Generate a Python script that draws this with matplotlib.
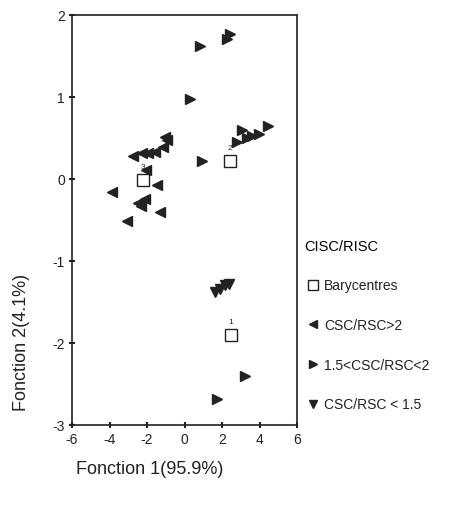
import numpy as np
import matplotlib
matplotlib.use('Agg')
import matplotlib.pyplot as plt

plt.rcParams['font.family'] = ['Liberation Sans', 'DejaVu Sans']
plt.rcParams['axes.unicode_minus'] = False

# group 3 : CSC/RSC>2 (left-pointing)
g3_x = [-0.95, -1.13, -1.04, -1.57, -1.93, -2.28, -2.76, -2.05, -1.48, -3.88,
        -2.10, -2.46, -2.30, -1.31, -3.08]
g3_y = [0.47, 0.39, 0.51, 0.33, 0.32, 0.32, 0.28, 0.11, -0.08, -0.16,
        -0.25, -0.30, -0.33, -0.41, -0.52]

# group 2 : 1.5<CSC/RSC<2 (right-pointing)
g2_x = [0.83, 2.43, 2.25, 0.29, 0.92, 2.78, 3.05, 3.30, 3.58, 3.94, 4.47, 3.23, 1.75]
g2_y = [1.62, 1.77, 1.71, 0.97, 0.22, 0.45, 0.59, 0.50, 0.52, 0.55, 0.65, -2.41, -2.68]

# group 1 : CSC/RSC < 1.5 (down-pointing)
g1_x = [1.63, 1.89, 2.16, 2.34]
g1_y = [-1.38, -1.34, -1.30, -1.28]

# barycentres
bary_x = [2.48, 2.43, -2.23]
bary_y = [-1.90, 0.22, -0.01]
bary_lab = ['1', '2', '3']

xticks = [-6, -4, -2, 0, 2, 4, 6]
yticks = [-3, -2, -1, 0, 1, 2]

fig = plt.figure(figsize=(4.74, 5.10), dpi=100)
ax = fig.add_axes([0.152, 0.165, 0.475, 0.804])

col = '#222222'
ax.plot(bary_x, bary_y, 's', ms=8.5, mfc='white', mec=col, mew=1.0, ls='none', label='Barycentres', zorder=3)
ax.plot(g3_x, g3_y, '<', ms=7, color=col, ls='none', label='CSC/RSC>2')
ax.plot(g2_x, g2_y, '>', ms=7, color=col, ls='none', label='1.5<CSC/RSC<2')
ax.plot(g1_x, g1_y, 'v', ms=7, color=col, ls='none', label='CSC/RSC < 1.5')
for bx, by, t in zip(bary_x, bary_y, bary_lab):
    ax.text(bx, by + 0.12, t, fontsize=6, ha='center', va='bottom', color=col)

ax.set_xlim(-6, 6)
ax.set_ylim(-3, 2)
ax.set_xticks(xticks)
ax.set_yticks(yticks)
ax.tick_params(direction='inout', length=4, width=1.5, labelsize=10, colors=col, pad=3)
for s in ax.spines.values():
    s.set_linewidth(1.2)
    s.set_color(col)

fig.text(22 / 474, 1 - 342 / 510, 'Fonction 2(4.1%)', rotation=90, fontsize=13,
         ha='center', va='center', color=col)
fig.text(150 / 474, 1 - 470 / 510, 'Fonction 1(95.9%)', fontsize=13,
         ha='center', va='center', color=col)

leg = ax.legend(loc='upper left', bbox_to_anchor=(295 / 474, 1 - 230 / 510),
                bbox_transform=fig.transFigure, frameon=False, fontsize=10,
                title='CISC/RISC', title_fontsize=10.5, alignment='left',
                labelspacing=1.85, handletextpad=0.2, handlelength=1.2,
                markerscale=0.8, borderpad=0.2)
for t in leg.get_texts():
    t.set_color(col)

fig.savefig('out.png', dpi=100)
